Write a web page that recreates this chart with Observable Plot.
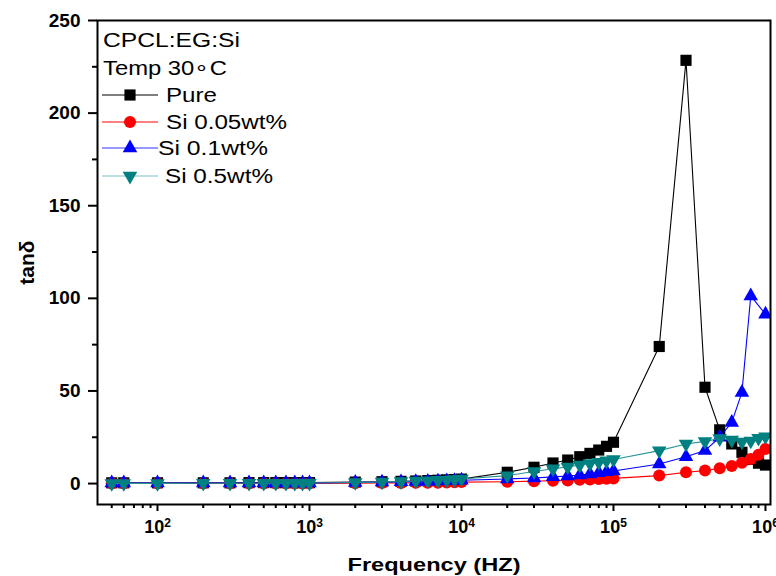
<!DOCTYPE html>
<html><head><meta charset="utf-8">
<script src="https://cdn.jsdelivr.net/npm/d3@7"></script>
<script src="https://cdn.jsdelivr.net/npm/@observablehq/plot@0.6"></script>
<style>
html,body{margin:0;padding:0;background:#fff;}
#wrap{position:relative;width:776px;height:576px;overflow:hidden;}
#legend{position:absolute;left:0;top:0;pointer-events:none;}
</style></head><body><div id="wrap"></div>
<script>
// ---- data ----
const freq = [50,60,100,200,300,400,500,600,700,800,900,1000,
  2000,3000,4000,5000,6000,7000,8000,9000,10000,
  20000,30000,40000,50000,60000,70000,80000,90000,100000,
  200000,300000,400000,500000,600000,700000,800000,900000,1000000];
const pure = [0.4,0.4,0.4,0.4,0.4,0.5,0.5,0.5,0.5,0.5,0.5,0.5,
  0.8,1.0,1.2,1.4,1.6,1.8,2.0,2.2,2.4,
  6.1,8.8,11.1,12.7,14.5,16.3,18.1,20.1,22.3,
  74,228.5,52,29,21.4,16.9,13,11,10];
const si005 = [0.1,0.1,0.1,0.1,0.1,0.1,0.1,0.1,0.1,0.1,0.1,0.1,
  0.2,0.3,0.3,0.4,0.5,0.5,0.6,0.7,0.8,
  1.0,1.3,1.5,1.7,2.0,2.2,2.4,2.6,2.8,
  4.3,6.1,7.0,8.3,9.5,11.3,13.3,15.6,18.7];
const freqSi01 = [50,60,100,200,300,400,500,600,700,800,900,1000,
  2000,3000,4000,5000,6000,7000,8000,9000,10000,
  20000,30000,40000,50000,60000,70000,80000,90000,100000,
  200000,300000,400000,500000,600000,700000,800000,1000000];
const si01 = [0.3,0.3,0.3,0.3,0.3,0.3,0.3,0.3,0.3,0.3,0.3,0.3,
  0.6,0.8,0.9,1.1,1.2,1.3,1.5,1.6,1.8,
  2.5,3.0,3.6,4.1,4.6,5.2,5.8,6.3,6.8,
  10.6,14.5,17.8,25,33,49.2,101.3,91.4];
const si05 = [0.1,0.1,0.1,0.2,0.2,0.2,0.2,0.2,0.2,0.2,0.2,0.3,
  0.6,0.9,1.1,1.4,1.6,1.8,2.0,2.2,2.5,
  4.3,6.5,8.0,9.0,10.0,10.8,11.5,12.3,13.0,
  17.8,21.4,22.8,24.3,23.5,22.5,23.0,24.5,25.3];
const seriesNames = ["Pure","Si 0.05wt%","Si 0.1wt%","Si 0.5wt%"];
const yTicks = [0,50,100,150,200,250];
const yMinor = [25,75,125,175,225];
const xTicks = [100,1000,10000,100000,1000000];
const xMinor = [50,60,70,80,90,200,300,400,500,600,700,800,900,2000,3000,4000,5000,6000,7000,8000,9000,
  20000,30000,40000,50000,60000,70000,80000,90000,200000,300000,400000,500000,600000,700000,800000,900000];

// ---- build ----
const sqrt3 = Math.sqrt(3);
const triDown = {draw(ctx, size){
  const y = -Math.sqrt(size / (sqrt3 * 3));
  ctx.moveTo(0, -y * 2); ctx.lineTo(-sqrt3 * y, y); ctx.lineTo(sqrt3 * y, y); ctx.closePath();
}};
const mk = (fs, vs) => fs.map((f, i) => ({f, v: vs[i]}));
const dPure = mk(freq, pure), dR = mk(freq, si005), dB = mk(freqSi01, si01), dT = mk(freq, si05);
const styles = [
  {data: dPure, line: "#000", fill: "#000", symbol: "square", r: 6.3},
  {data: dR, line: "#ff0000", fill: "#ff0000", symbol: "circle", r: 6},
  {data: dB, line: "#0000ff", fill: "#0000ff", symbol: "triangle", r: 5.4},
  {data: dT, line: "#2a9494", fill: "#008080", symbol: triDown, r: 5.4}
];
const marks = [];
for (const s of styles) {
  marks.push(Plot.line(s.data, {x: "f", y: "v", stroke: s.line, strokeWidth: 1.1, clip: true}));
  marks.push(Plot.dot(s.data, {x: "f", y: "v", fill: s.fill, symbol: s.symbol, r: s.r, stroke: "none", clip: true}));
}
const sup = {2: "2", 3: "3", 4: "4", 5: "5", 6: "6"};
const chart = Plot.plot({
  width: 776, height: 576,
  marginLeft: 97, marginRight: 6, marginTop: 20, marginBottom: 72,
  style: {fontFamily: "'Liberation Sans', Arial, sans-serif", fontWeight: "bold", fontSize: "18px", color: "#000", background: "#fff"},
  x: {type: "log", domain: [40.3, 1.079e6], axis: null},
  y: {domain: [-11.3, 250], axis: null},
  marks: [
    ...marks,
    Plot.frame({stroke: "#000", strokeWidth: 2}),
    Plot.axisY({ticks: yTicks, tickSize: 9, tickPadding: 8, strokeWidth: 2, label: null, fontSize: 19}),
    Plot.axisY({ticks: yMinor, tickSize: 5, tickFormat: () => "", strokeWidth: 2, label: null}),
    Plot.axisX({ticks: xTicks, tickSize: 7, tickPadding: 9, strokeWidth: 2, label: null, fontSize: 18,
      tickFormat: d => "10^" + Math.round(Math.log10(d))}),
    Plot.axisX({ticks: xMinor, tickSize: 4, tickFormat: () => "", strokeWidth: 2, label: null}),
    Plot.text(["tanδ"], {frameAnchor: "left", dx: -70, rotate: -90, textAnchor: "middle", fontSize: 21, fontWeight: "bold"}),
    Plot.text(["Frequency (HZ)"], {frameAnchor: "bottom", dy: 66, fontSize: 19, fontWeight: "bold"})
  ]
});
const wrap = document.getElementById("wrap");
wrap.appendChild(chart);
// superscripts and stretched titles
d3.select(chart).selectAll("text").each(function() {
  const t = this.textContent;
  const m = /^10\^(\d)$/.exec(t);
  if (m) {
    const sel = d3.select(this);
    sel.text("10");
    sel.append("tspan").attr("dy", "-0.55em").attr("font-size", "12px").text(sup[m[1]]);
  }
  if (t === "Frequency (HZ)") d3.select(this).style("font-size", "19px").attr("textLength", 173).attr("lengthAdjust", "spacingAndGlyphs");
  if (t === "tanδ") d3.select(this).style("font-size", "21px").style("font-weight", "bold");
});

// ---- legend overlay ----
const lg = d3.select(wrap).append("svg").attr("id", "legend").attr("width", 776).attr("height", 576)
  .style("font-family", "'Liberation Sans', Arial, sans-serif").style("font-size", "20px");
lg.append("text").attr("x", 103).attr("y", 47).attr("textLength", 137).attr("lengthAdjust", "spacingAndGlyphs").text("CPCL:EG:Si");
lg.append("text").attr("x", 103).attr("y", 75).attr("textLength", 124).attr("lengthAdjust", "spacingAndGlyphs").text("Temp 30∘C");
const legRows = [
  {y: 95, tx: 166, tw: 51, line: "#000", fill: "#000", sym: d3.symbolSquare, size: 6.3*6.3*Math.PI},
  {y: 122, tx: 166, tw: 121, line: "#ff0000", fill: "#ff0000", sym: d3.symbolCircle, size: 6*6*Math.PI},
  {y: 148, tx: 158, tw: 110, line: "#3333ff", fill: "#0000ff", sym: d3.symbolTriangle, size: 5.4*5.4*Math.PI},
  {y: 176, tx: 165, tw: 108, line: "#7cc4c4", fill: "#008080", sym: triDown, size: 5.4*5.4*Math.PI}
];
legRows.forEach((r, i) => {
  lg.append("line").attr("x1", 102).attr("x2", 158).attr("y1", r.y).attr("y2", r.y).attr("stroke", r.line).attr("stroke-width", 1.2);
  lg.append("path").attr("transform", `translate(130,${r.y})`).attr("d", d3.symbol(r.sym, r.size)()).attr("fill", r.fill);
  lg.append("text").attr("x", r.tx).attr("y", r.y + 7).attr("textLength", r.tw).attr("lengthAdjust", "spacingAndGlyphs").text(seriesNames[i]);
});
</script></body></html>
